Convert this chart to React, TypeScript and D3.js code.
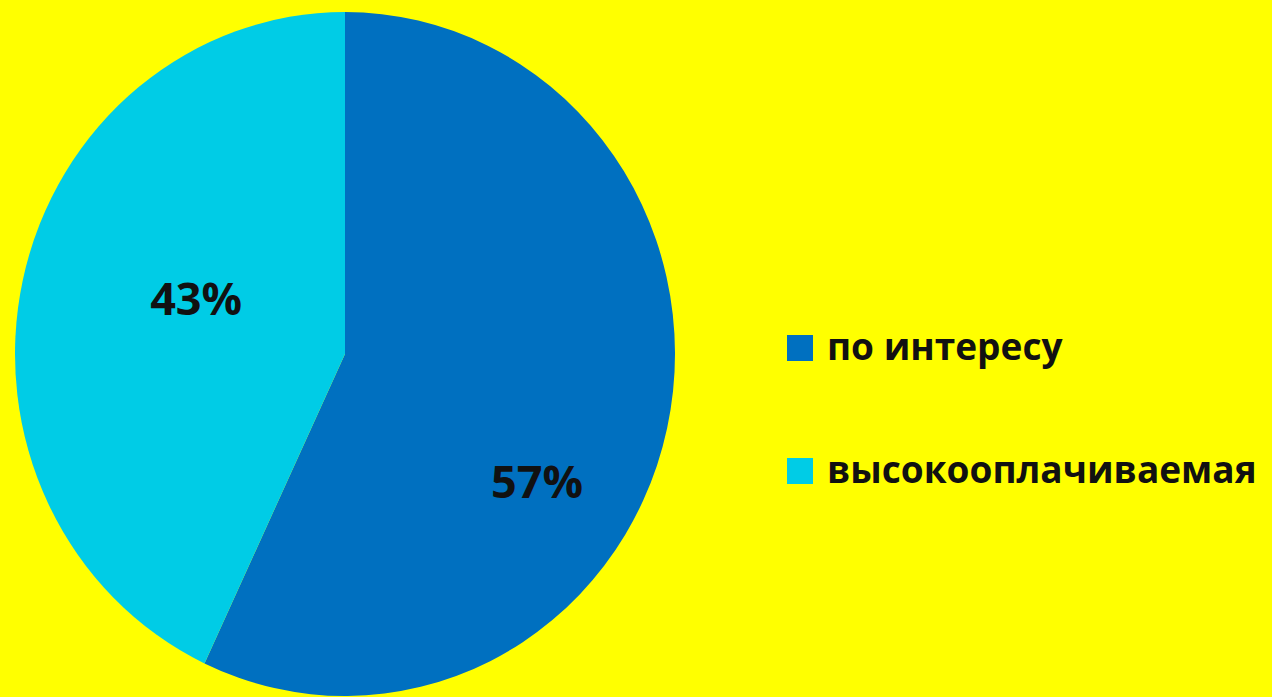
import React, { useRef, useEffect } from "react";
import * as d3 from "d3";

const categories = ["по интересу", "высокооплачиваемая"];
const values = [57, 43];
const colors = ["#0070C0", "#00CCE6"];

// label placement per slice: [angle in degrees from 12 o'clock, radius fraction]
const labelPlacement: [number, number][] = [
  [122.5, 0.69],
  [290, 0.48],
];

const width = 1272;
const height = 697;

const App = () => {
  const ref = useRef<SVGSVGElement>(null);

  useEffect(() => {
    if (!ref.current) return;
    const svg = d3.select(ref.current);
    svg.selectAll("*").remove();

    svg.append("rect").attr("width", width).attr("height", height).attr("fill", "#FFFF00");

    const cx = 345;
    const cy = 354;
    const r = 330;
    const yStretch = 342 / 330;

    const data = categories.map((c, i) => ({ name: c, value: values[i], color: colors[i] }));

    const pie = d3
      .pie<{ name: string; value: number; color: string }>()
      .value((d) => d.value)
      .sort(null);
    const arc = d3
      .arc<d3.PieArcDatum<{ name: string; value: number; color: string }>>()
      .innerRadius(0)
      .outerRadius(r);

    const g = svg
      .append("g")
      .attr("transform", `translate(${cx},${cy}) scale(1,${yStretch})`);

    g.selectAll(".slice")
      .data(pie(data))
      .enter()
      .append("path")
      .attr("class", "slice")
      .attr("d", arc)
      .attr("fill", (d) => d.data.color);

    // percentage labels
    const total = d3.sum(values);
    svg
      .selectAll(".pct")
      .data(data)
      .enter()
      .append("text")
      .attr("class", "pct")
      .attr("x", (_, i) => cx + Math.sin((labelPlacement[i][0] * Math.PI) / 180) * r * labelPlacement[i][1])
      .attr("y", (_, i) => cy - Math.cos((labelPlacement[i][0] * Math.PI) / 180) * r * labelPlacement[i][1] * yStretch)
      .attr("text-anchor", "middle")
      .attr("dominant-baseline", "central")
      .attr("font-family", "'Open Sans', sans-serif")
      .attr("font-weight", "bold")
      .attr("font-size", 45)
      .attr("fill", "#111")
      .text((d) => `${Math.round((d.value / total) * 100)}%`);

    // legend
    const legend = svg
      .selectAll(".legend")
      .data(data)
      .enter()
      .append("g")
      .attr("class", "legend")
      .attr("transform", (_, i) => `translate(787,${335 + i * 123})`);

    legend
      .append("rect")
      .attr("width", 26)
      .attr("height", 26)
      .attr("fill", (d) => d.color);

    legend
      .append("text")
      .attr("x", 40)
      .attr("y", 25)
      .attr("font-family", "'Open Sans', sans-serif")
      .attr("font-weight", "bold")
      .attr("font-size", 37)
      .attr("fill", "#111")
      .text((d) => d.name);
  }, []);

  return (
    <svg
      ref={ref}
      width={width}
      height={height}
      style={{ position: "absolute", left: 0, top: 0, display: "block" }}
    />
  );
};

export default App;
